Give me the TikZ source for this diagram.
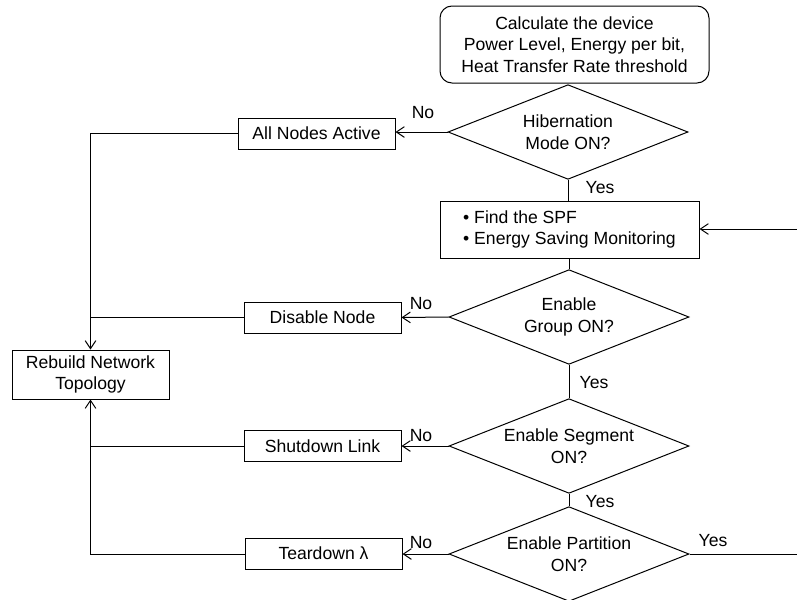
\documentclass[tikz,border=0pt]{standalone}
\usepackage{fontspec}
\setmainfont{Liberation Sans}
\usetikzlibrary{arrows.meta, shapes.geometric}

\begin{document}
\begin{tikzpicture}[x=0.75pt, y=-0.75pt,
    every node/.style={font=\fontsize{13.2}{16.3}\selectfont},
    box/.style={draw, line width=0.75pt, minimum width=117.75pt, minimum height=23.25pt, inner sep=2pt},
    decision/.style={draw, diamond, line width=0.75pt, aspect=2.5, inner sep=0pt, minimum width=180pt, minimum height=71pt, align=center},
    flow/.style={line width=0.75pt},
    >={Straight Barb[length=6pt, width=8pt]}]
  \useasboundingbox (0, 0) rectangle (797, 600);
  % start box
  \node [draw, line width=0.75pt, rounded corners=9pt, align=center, minimum width=201.75pt, minimum height=57.75pt, inner sep=2pt] (calc) at (574.5, 44.5)
    {Calculate the device\\Power Level, Energy per bit,\\Heat Transfer Rate threshold};
  % Draw decisions down the middle
  \node [decision] (hib) at (568, 132) {Hibernation\\Mode ON?};
  \node [box, align=left, minimum width=194.25pt, minimum height=42.75pt] (spf) at (569.5, 229.5)
    {• Find the SPF\\• Energy Saving Monitoring};
  \node [decision] (grp) at (569, 317) {Enable\\Group ON?};
  \node [decision] (seg) at (569, 446) {Enable Segment\\ON?};
  \node [decision] (part) at (569, 554) {Enable Partition\\ON?};
  % Draw action boxes on the left
  \node [box] (active) at (316.5, 133.5) {All Nodes Active};
  \node [box] (disable) at (322.5, 317.5) {Disable Node};
  \node [box] (shut) at (322.5, 446) {Shutdown Link};
  \node [box] (tear) at (323.5, 553.5) {Teardown λ};
  \node [box, align=center, minimum height=36.75pt, minimum width=117.75pt] (rebuild) at (90.5, 374.5)
    {Rebuild Network\\Topology};
  % free ends on the right edge
  \coordinate (loopin) at (797, 229);
  \coordinate (loopout) at (797, 554);
  % Draw main line
  \draw [flow] (hib.south) -- (spf.north -| hib.south);
  \draw [flow] (spf.south -| grp.north) -- (grp.north);
  \draw [flow] (grp.south) -- (seg.north);
  \draw [flow] (seg.south) -- (part.north);
  \draw [flow, ->] (loopin) -- (spf.east |- loopin);
  \draw [flow] (part.east) -- (loopout);
  % Draw No branches
  \draw [flow, ->] (hib.west) -- (active.east |- hib.west);
  \draw [flow, ->] (grp.west) -- (disable.east);
  \draw [flow, ->] (seg.west) -- (shut.east);
  \draw [flow, ->] (part.west) -- (tear.east |- part.west);
  % Draw return lines to the rebuild box
  \draw [flow, ->] (active.west) -| (rebuild.north);
  \draw [flow] (disable.west) -- (disable.west -| rebuild.north);
  \draw [flow, ->] (tear.west |- part.west) -| (rebuild.south);
  \draw [flow] (shut.west) -- (shut.west -| rebuild.south);
  % Add labels
  \node (no1) at (423, 113) {No};
  \node (no2) at (421, 304) {No};
  \node (no3) at (421, 436) {No};
  \node (no4) at (421, 543) {No};
  \node (yes1) at (600, 188) {Yes};
  \node (yes2) at (594, 383) {Yes};
  \node (yes3) at (600, 502) {Yes};
  \node (yes4) at (713, 541) {Yes};
\end{tikzpicture}
\end{document}
